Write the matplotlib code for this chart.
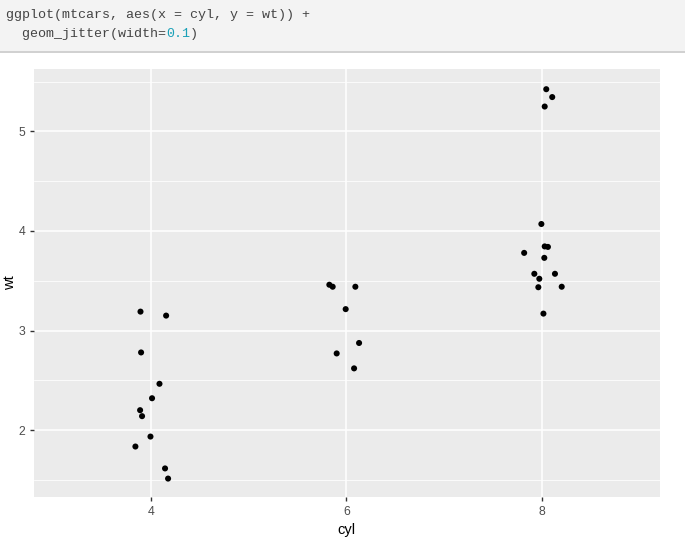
import matplotlib
matplotlib.use("Agg")
import matplotlib.pyplot as plt
from matplotlib.patches import Rectangle
from matplotlib.lines import Line2D

# jittered positions (x) and weights (y)
cyl4_x = [3.895, 4.157, 3.901, 4.089, 4.013, 3.891, 3.911, 3.997, 3.843, 4.146, 4.177]
cyl4_wt = [3.19, 3.15, 2.78, 2.465, 2.32, 2.20, 2.14, 1.935, 1.835, 1.615, 1.513]
cyl6_x = [5.826, 5.860, 6.092, 5.993, 6.130, 5.901, 6.079]
cyl6_wt = [3.46, 3.44, 3.44, 3.215, 2.875, 2.77, 2.62]
cyl8_x = [8.044, 8.105, 8.028, 7.994, 8.028, 8.061, 7.818, 8.024, 7.922, 8.133, 7.973, 7.963, 8.202, 8.015]
cyl8_wt = [5.424, 5.345, 5.25, 4.07, 3.845, 3.84, 3.78, 3.73, 3.57, 3.57, 3.52, 3.435, 3.44, 3.17]

x_ticks = [4, 6, 8]
y_ticks = [2, 3, 4, 5]
y_minor = [1.5, 2.5, 3.5, 4.5, 5.5]
code_line1 = "ggplot(mtcars, aes(x = cyl, y = wt)) +"
code_line2_a = "  geom_jitter(width="
code_line2_b = "0.1"
code_line2_c = ")"

W, H = 685, 543
fig = plt.figure(figsize=(W / 100, H / 100), dpi=100)
fig.patch.set_facecolor("white")

# code block
fig.patches.append(Rectangle((0, 1 - 51 / H), 1, 51 / H, transform=fig.transFigure,
                             facecolor="#f3f3f3", edgecolor="none", zorder=0))
fig.lines.append(Line2D([0, 1], [1 - 51.5 / H, 1 - 51.5 / H], transform=fig.transFigure,
                        color="#c8c8c8", lw=1.2))
mono = dict(family="Liberation Mono", fontsize=9.6, color="#444444", va="center", ha="left")
fig.text(6 / W, 1 - 15 / H, code_line1, **mono)
fig.text(6 / W, 1 - 34 / H, code_line2_a, **mono)
cw = 8.0
fig.text((6 + cw * len(code_line2_a)) / W, 1 - 34 / H, code_line2_b,
         **{**mono, "color": "#1ba1b8"})
fig.text((6 + cw * (len(code_line2_a) + 3)) / W, 1 - 34 / H, code_line2_c, **mono)

# plot panel
left, right, top, bottom = 33.7, 660, 68.5, 497
ax = fig.add_axes([left / W, 1 - bottom / H, (right - left) / W, (bottom - top) / H])
ax.set_facecolor("#EBEBEB")
for s in ax.spines.values():
    s.set_visible(False)

ax.set_xlim(2.803, 9.207)
ax.set_ylim(1.328, 5.632)
ax.set_xticks(x_ticks)
ax.set_yticks(y_ticks)
ax.set_yticks(y_minor, minor=True)
ax.grid(True, which="major", color="white", lw=1.1)
ax.grid(True, which="minor", axis="y", color="white", lw=0.55)
ax.set_axisbelow(True)
ax.tick_params(which="major", length=3.2, width=1.0, color="#333333",
               labelcolor="#4D4D4D", labelsize=8.8, pad=3)
ax.tick_params(which="minor", length=0)
for lab in ax.get_xticklabels() + ax.get_yticklabels():
    lab.set_family("Liberation Sans")

for xs, ys in [(cyl4_x, cyl4_wt), (cyl6_x, cyl6_wt), (cyl8_x, cyl8_wt)]:
    ax.scatter(xs, ys, s=19, color="black", edgecolors="none", zorder=3)

ax.set_xlabel("cyl", family="Liberation Sans", fontsize=10.5, color="black", labelpad=4)
fig.text(10 / W, 1 - 283 / H, "wt", family="Liberation Sans", fontsize=10.5,
         color="black", rotation=90, ha="center", va="center")

fig.savefig("out.png", dpi=100, facecolor="white")
